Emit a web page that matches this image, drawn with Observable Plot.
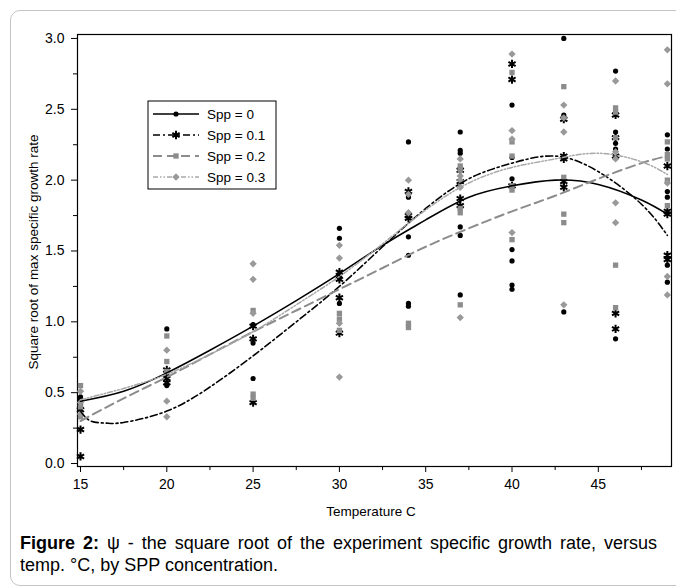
<!DOCTYPE html>
<html>
<head>
<meta charset="utf-8">
<script src="https://cdn.jsdelivr.net/npm/d3@7"></script>
<script src="https://cdn.jsdelivr.net/npm/@observablehq/plot@0.6"></script>
<style>
  html, body { margin: 0; padding: 0; background: #fff; }
  body { font-family: Arial, "Liberation Sans", sans-serif; }
  #wrap { position: relative; width: 676px; height: 588px; overflow: hidden; background: #fff; }
  #border { position: absolute; left: 10px; top: 10px; width: 700px; height: 576px; border: 1px solid #c4c4c4; border-radius: 10px; box-sizing: border-box; }
  #chart { position: absolute; left: 0; top: 0; }
  #ylabel { position: absolute; left: 33px; top: 252px; transform: translate(-50%, -50%) rotate(-90deg); white-space: nowrap; font-size: 13.5px; color: #000; }
  #xlabel { position: absolute; left: 371px; top: 511px; transform: translate(-50%, -50%); white-space: nowrap; font-size: 13.5px; color: #000; }
  #legend { position: absolute; left: 0; top: 0; }
  #caption { position: absolute; left: 20px; top: 532px; width: 637px; font-size: 18px; line-height: 22px; color: #000; }
  #caption .l1 { text-align: justify; text-align-last: justify; }
</style>
</head>
<body>
<div id="wrap">
  <div id="border"></div>
  <div id="chart"></div>
  <div id="ylabel">Square root of max specific growth rate</div>
  <div id="xlabel">Temperature C</div>
  <svg id="legend" width="676" height="300"></svg>
  <div id="caption"><div class="l1"><b>Figure 2:</b> ψ - the square root of the experiment specific growth rate, versus</div><div>temp. °C, by SPP concentration.</div></div>
</div>
<script>
// ---- data ----
const temps = [15, 20, 25, 30, 34, 37, 40, 43, 46, 49];

const spp0Obs = [
  [0.47, 0.45, 0.42],
  [0.95, 0.62, 0.55],
  [0.98, 0.85, 0.60],
  [1.66, 1.59, 1.32, 1.13],
  [2.27, 1.88, 1.60, 1.47, 1.13, 1.11],
  [2.34, 2.21, 2.19, 1.67, 1.61, 1.19],
  [2.53, 2.16, 2.01, 1.51, 1.43, 1.26, 1.23],
  [3.00, 2.46, 1.07],
  [2.77, 2.34, 2.26, 2.22, 0.88],
  [2.32, 2.22, 1.92, 1.88, 1.40, 1.28]
];
const spp01Obs = [
  [0.38, 0.24, 0.05],
  [0.66, 0.60, 0.57],
  [0.97, 0.88, 0.43],
  [1.35, 1.30, 1.17, 0.92],
  [1.92, 1.75, 1.73],
  [2.07, 1.99, 1.87, 1.82],
  [2.82, 2.71, 1.96],
  [2.43, 2.17, 2.15, 1.99, 1.95],
  [2.46, 2.30, 2.17, 1.06, 0.95],
  [2.10, 1.78, 1.76, 1.47, 1.44]
];
const spp02Obs = [
  [0.55, 0.40, 0.33],
  [0.90, 0.72, 0.65],
  [1.08, 0.49, 0.46],
  [1.06, 1.02, 0.94],
  [0.99, 0.96],
  [2.10, 2.07, 1.80, 1.77, 1.12],
  [2.76, 2.27, 2.17, 1.96, 1.93, 1.58],
  [2.66, 2.02, 1.76, 1.70],
  [2.51, 2.48, 2.30, 1.40, 1.10],
  [2.27, 2.18, 2.15, 2.00, 1.82]
];
const spp03Obs = [
  [0.51, 0.43, 0.35],
  [0.80, 0.44, 0.33],
  [1.41, 1.30, 1.06],
  [1.54, 1.45, 0.99, 0.61],
  [2.00, 1.90, 1.77],
  [2.15, 2.03, 2.00, 1.95, 1.03],
  [2.89, 2.35, 2.29, 1.63],
  [2.53, 2.44, 2.34, 1.12],
  [2.70, 2.20, 2.15, 1.84, 1.70],
  [2.92, 2.68, 1.98, 1.32, 1.19]
];

// fitted curves, read at these temperatures
const fitT   = [15, 17.5, 20, 22.5, 25, 27.5, 30, 32.5, 35, 37.5, 40, 42.5, 45, 47.5, 49];
const fit0   = [0.44, 0.51, 0.64, 0.80, 0.97, 1.15, 1.34, 1.54, 1.72, 1.88, 1.96, 2.00, 1.97, 1.86, 1.76];
const fit02  = [0.30, 0.46, 0.61, 0.77, 0.93, 1.08, 1.23, 1.38, 1.53, 1.66, 1.78, 1.89, 2.01, 2.12, 2.17];
const fit03  = [0.45, 0.53, 0.63, 0.77, 0.93, 1.12, 1.32, 1.55, 1.79, 1.98, 2.09, 2.15, 2.19, 2.13, 2.04];
const fit01T = [15, 15.6, 16.5, 17.5, 20, 22.5, 25, 27.5, 30, 32.5, 35, 37.5, 40, 42.5, 45, 47.5, 49];
const fit01  = [0.37, 0.30, 0.285, 0.29, 0.37, 0.54, 0.76, 1.00, 1.25, 1.53, 1.80, 2.01, 2.12, 2.17, 2.06, 1.83, 1.61];

const seriesNames = ["Spp = 0", "Spp = 0.1", "Spp = 0.2", "Spp = 0.3"];
const xMajor = [15, 20, 25, 30, 35, 40, 45];
const xMinor = [17.5, 22.5, 27.5, 32.5, 37.5, 42.5, 47.5];
const yMajor = [0, 0.5, 1, 1.5, 2, 2.5, 3];
const yMinor = [0.25, 0.75, 1.25, 1.75, 2.25, 2.75];

// ---- build tables ----
const obsSets = [spp0Obs, spp01Obs, spp02Obs, spp03Obs];
const obs = [];
obsSets.forEach((arr, k) => arr.forEach((vals, i) => vals.forEach(v => obs.push({t: temps[i], v, s: seriesNames[k]}))));
const fitSets = [[fitT, fit0], [fit01T, fit01], [fitT, fit02], [fitT, fit03]];
const fits = [];
fitSets.forEach(([ts, vs], k) => ts.forEach((t, i) => fits.push({t, v: vs[i], s: seriesNames[k]})));

const styles = {
  "Spp = 0":   {stroke: "#000",    width: 1.6, dash: null,              sym: "circle",   r: 2.6, fill: "#000", symStroke: "none", symW: 0},
  "Spp = 0.1": {stroke: "#000",    width: 1.6, dash: "7,3,2,3",         sym: "asterisk", r: 3.9, fill: "none", symStroke: "#000", symW: 2},
  "Spp = 0.2": {stroke: "#8c8c8c", width: 2,   dash: "9,5",             sym: "square",   r: 3.0, fill: "#8c8c8c", symStroke: "none", symW: 0},
  "Spp = 0.3": {stroke: "#a8a8a8", width: 1.5, dash: "5,2,1.5,2,1.5,2", sym: "diamond2", r: 3.3, fill: "#999", symStroke: "none", symW: 0}
};

const marks = [
  Plot.frame({stroke: "#000", strokeWidth: 1.2}),
  Plot.axisY({ticks: yMajor, tickFormat: d3.format(".1f"), tickSize: 6, tickPadding: 7, label: null, fontSize: 14}),
  Plot.axisY({ticks: yMinor, tickFormat: () => "", tickSize: 4, label: null}),
  Plot.axisX({ticks: xMajor, tickFormat: d3.format("d"), tickSize: 6, tickPadding: 7, label: null, fontSize: 14}),
  Plot.axisX({ticks: xMinor, tickFormat: () => "", tickSize: 4, label: null})
];
seriesNames.forEach(s => {
  const st = styles[s];
  marks.push(Plot.dot(obs.filter(d => d.s === s), {x: "t", y: "v", symbol: st.sym, r: st.r, fill: st.fill, stroke: st.symStroke, strokeWidth: st.symW}));
});
seriesNames.forEach(s => {
  const st = styles[s];
  marks.push(Plot.line(fits.filter(d => d.s === s), {x: "t", y: "v", curve: "natural", stroke: st.stroke, strokeWidth: st.width, strokeDasharray: st.dash}));
});

const chart = Plot.plot({
  width: 676, height: 525,
  marginLeft: 77, marginRight: 5, marginTop: 34, marginBottom: 59,
  x: {domain: [14.826, 49.24]},
  y: {domain: [-0.021, 3.028]},
  style: {fontFamily: "Arial, 'Liberation Sans', sans-serif", fontSize: "14px", color: "#000", background: "transparent", overflow: "visible"},
  marks
});
document.getElementById("chart").appendChild(chart);

// ---- legend ----
const lg = d3.select("#legend");
const box = {x: 148, y: 101, w: 128, h: 88};
lg.append("rect").attr("x", box.x).attr("y", box.y).attr("width", box.w).attr("height", box.h)
  .attr("fill", "#fff").attr("stroke", "#000").attr("stroke-width", 1);
const symMap = {circle: d3.symbolCircle, asterisk: d3.symbolAsterisk, square: d3.symbolSquare, diamond2: d3.symbolDiamond2};
seriesNames.forEach((s, i) => {
  const st = styles[s];
  const cy = 114 + i * 21;
  lg.append("line").attr("x1", 153).attr("x2", 199).attr("y1", cy).attr("y2", cy)
    .attr("stroke", st.stroke).attr("stroke-width", st.width).attr("stroke-dasharray", st.dash);
  const size = Math.PI * st.r * st.r;
  lg.append("path").attr("transform", `translate(176,${cy})`)
    .attr("d", d3.symbol(symMap[st.sym], size)())
    .attr("fill", st.fill).attr("stroke", st.symStroke).attr("stroke-width", st.symW);
  lg.append("text").attr("x", 207).attr("y", cy).attr("dy", "0.35em")
    .attr("font-family", "Arial, 'Liberation Sans', sans-serif").attr("font-size", 13.5).text(s);
});
</script>
</body>
</html>
